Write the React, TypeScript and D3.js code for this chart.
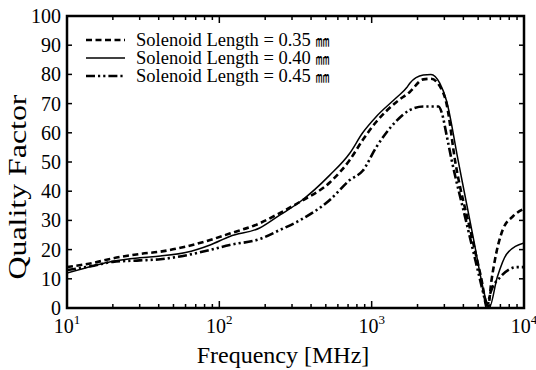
import React from "react";
import * as d3 from "d3";

const freq035 = [10, 15, 20, 30, 41, 60, 87, 117, 184, 249, 337, 531, 718, 873, 1070, 1450, 1780, 2180, 2450, 2800, 3100, 3540, 4500, 5200, 5800, 6100, 6440, 7240, 8500, 10000];
const q035 = [14, 15.5, 17, 18.5, 19.3, 21, 23.3, 25.5, 29, 32.5, 36.3, 43, 50.7, 57.5, 63.7, 70.5, 74, 78.3, 78.5, 76, 70, 50, 25.4, 11, 0, 9, 16.4, 26.7, 31.5, 34];

const freq040 = [10, 15, 20, 30, 41, 60, 87, 117, 184, 249, 337, 531, 718, 873, 1070, 1450, 1700, 1780, 2180, 2450, 2800, 3100, 3690, 4620, 5700, 5900, 6680, 7700, 10000];
const q040 = [12, 14.5, 16, 17.2, 17.8, 19, 21.6, 24.5, 27.4, 31.8, 36.3, 45.5, 53, 60, 65.5, 72, 75.5, 77, 79.8, 80, 77, 71, 50.7, 24.7, 1.9, 0, 10.6, 18.5, 22.3];

const freq045 = [10, 15, 20, 30, 41, 60, 87, 117, 184, 249, 337, 531, 718, 873, 1070, 1450, 1780, 2180, 2750, 2880, 3120, 3350, 4200, 5500, 5700, 6000, 6990, 9000, 10000];
const q045 = [13, 14.5, 15.8, 16.3, 16.7, 18, 19.9, 21.6, 23.6, 26.7, 30, 37, 43.8, 47, 55, 64, 67.8, 69, 69, 67, 58.6, 50.7, 29, 3.4, 0, 5, 10.6, 14, 14];

const seriesLabels = ["Solenoid Length = 0.35 ", "Solenoid Length = 0.40 ", "Solenoid Length = 0.45 "];
const unitLabel = "㎜";
const yTicks = [0, 10, 20, 30, 40, 50, 60, 70, 80, 90, 100];
const xDecades = [1, 2, 3, 4];
const xTitle = "Frequency [MHz]";
const yTitle = "Quality Factor";

const W = 536, H = 370;
const M = { left: 67, right: 524, top: 16, bottom: 308 };

const styles = [
  { dash: "6,3.5", width: 2.6 },
  { dash: "", width: 1.5 },
  { dash: "9,3,2.2,3,2.2,3", width: 2.6 },
];

export default function App() {
  const x = d3.scaleLog().domain([10, 10000]).range([M.left, M.right]);
  const y = d3.scaleLinear().domain([0, 100]).range([M.bottom, M.top]);
  const line = d3
    .line<[number, number]>()
    .x((d) => x(d[0]))
    .y((d) => y(d[1]))
    .curve(d3.curveMonotoneX);

  const data: [number, number][][] = [
    freq035.map((f, i) => [f, q035[i]] as [number, number]),
    freq040.map((f, i) => [f, q040[i]] as [number, number]),
    freq045.map((f, i) => [f, q045[i]] as [number, number]),
  ];

  const minorTicks: number[] = [];
  for (let e = 1; e < 4; e++) for (let m = 2; m <= 9; m++) minorTicks.push(m * Math.pow(10, e));

  const font = "'Liberation Serif', 'Times New Roman', serif";
  const legendY = [40, 58, 76];

  return (
    <svg width={W} height={H} style={{ position: "absolute", left: 0, top: 0, background: "#fff" }} fontFamily={font}>
      <defs>
        <clipPath id="plotClip">
          <rect x={M.left} y={M.top - 2} width={M.right - M.left} height={M.bottom - M.top + 2} />
        </clipPath>
      </defs>
      <g clipPath="url(#plotClip)">
        {data.map((d, i) => (
          <path key={i} d={line(d) || ""} fill="none" stroke="#000" strokeWidth={styles[i].width} strokeDasharray={styles[i].dash} />
        ))}
      </g>
      {yTicks.map((t) => (
        <g key={t}>
          <line x1={M.left} x2={M.left + 5} y1={y(t)} y2={y(t)} stroke="#000" strokeWidth={1.5} />
          <line x1={M.right} x2={M.right - 5} y1={y(t)} y2={y(t)} stroke="#000" strokeWidth={1.5} />
          <text x={M.left - 6} y={y(t)} dy="0.35em" textAnchor="end" fontSize={20}>
            {t}
          </text>
        </g>
      ))}
      {xDecades.map((e) => {
        const xv = x(Math.pow(10, e));
        return (
          <g key={e}>
            <line x1={xv} x2={xv} y1={M.bottom} y2={M.bottom - 7} stroke="#000" strokeWidth={1.5} />
            <line x1={xv} x2={xv} y1={M.top} y2={M.top + 7} stroke="#000" strokeWidth={1.5} />
            <text x={xv} y={333} textAnchor="middle" fontSize={20}>
              10
              <tspan dy={-9} fontSize={13}>
                {e}
              </tspan>
            </text>
          </g>
        );
      })}
      {minorTicks.map((t) => (
        <g key={t}>
          <line x1={x(t)} x2={x(t)} y1={M.bottom} y2={M.bottom - 4} stroke="#000" strokeWidth={1.5} />
          <line x1={x(t)} x2={x(t)} y1={M.top} y2={M.top + 4} stroke="#000" strokeWidth={1.5} />
        </g>
      ))}
      <rect x={M.left} y={M.top} width={M.right - M.left} height={M.bottom - M.top} fill="none" stroke="#000" strokeWidth={2.5} />
      <text x={283} y={363} textAnchor="middle" fontSize={24}>
        {xTitle}
      </text>
      <text
        transform="translate(26,187) rotate(-90)"
        textAnchor="middle"
        fontSize={26}
        textLength={185}
        lengthAdjust="spacingAndGlyphs"
      >
        {yTitle}
      </text>
      {seriesLabels.map((s, i) => (
        <g key={i}>
          <line x1={86} x2={125} y1={legendY[i]} y2={legendY[i]} stroke="#000" strokeWidth={styles[i].width} strokeDasharray={styles[i].dash} />
          <text x={136} y={legendY[i]} dy="0.33em" fontSize={18.5}>
            {s}
            <tspan fontFamily="'Noto Sans CJK JP', sans-serif" fontSize={14}>
              {unitLabel}
            </tspan>
          </text>
        </g>
      ))}
    </svg>
  );
}
